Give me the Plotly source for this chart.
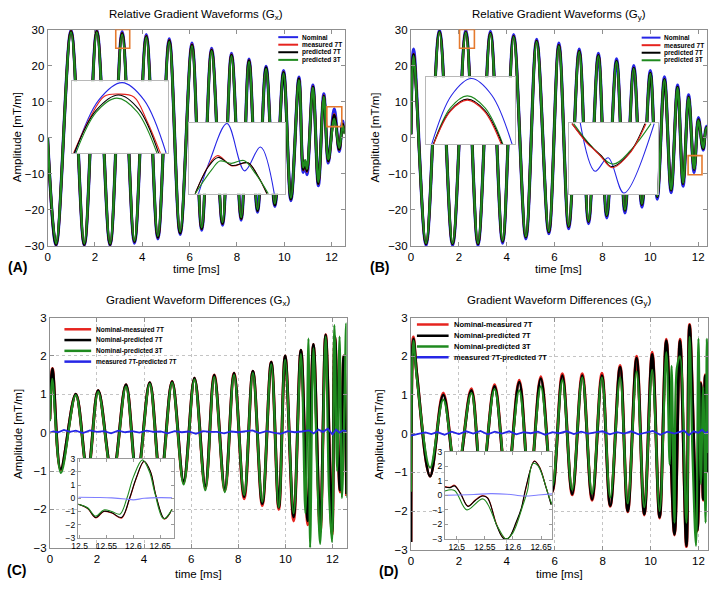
import plotly.graph_objects as go

W, H = 709, 590
FONT = "Liberation Sans, Arial, Helvetica, sans-serif"
BLUE = "#2626e6"
RED = "#e6241f"
BLACK = "#000000"
GREEN = "#1f8a1f"
ORANGE = "#e57a2e"
FRAME = "#8f8f8f"

# ---------------- Panel A: relative gradient waveform Gx (extrema) ----------------
tA = [0.0, 0.36, 0.99, 1.55, 2.08, 2.64, 3.15, 3.67, 4.17, 4.66, 5.14, 5.6, 6.1, 6.51, 6.93, 7.39,
      7.77, 8.18, 8.51, 8.87, 9.23, 9.6, 9.97, 10.28, 10.62, 10.8, 10.88, 10.96, 11.21, 11.44, 11.67,
      11.86, 12.11, 12.32, 12.47, 12.56]
gxNominal = [0, -29.8, 29.8, -29.8, 29.8, -29.8, 29.4, -29.2, 28.6, -28.0, 27.4, -26.8, 26.2, -25.6, 24.8, -24.2,
             23.4, -22.8, 21.8, -20.6, 19.8, -19.0, 18.6, -17.4, 16.8, -9.6, -7.2, -10.2, 14.6, -13.3, 12.2,
             -7.0, 8.0, -3.8, 4.6, 1.5]
gxMeas7 = [0, -29.6, 29.6, -29.6, 29.6, -29.6, 29.0, -28.8, 28.2, -27.6, 27.0, -26.4, 25.8, -25.2, 24.4, -23.8,
           23.0, -22.4, 21.4, -20.2, 19.4, -18.6, 18.2, -17.0, 16.4, -8.9, -6.7, -9.4, 14.2, -12.8, 11.7,
           -6.5, 6.5, -3.3, 3.9, 1.2]
gxPred7 = [0, -29.6, 29.5, -29.6, 29.5, -29.6, 28.9, -28.8, 28.1, -27.6, 26.9, -26.4, 25.7, -25.2, 24.3, -23.8,
           22.9, -22.4, 21.4, -20.2, 19.4, -18.6, 18.1, -17.0, 16.4, -8.8, -6.6, -9.2, 14.1, -12.7, 11.6,
           -6.4, 6.3, -3.2, 3.8, 1.2]
gxPred3 = [0, -29.3, 29.2, -29.3, 29.2, -29.3, 28.6, -28.5, 27.8, -27.2, 26.6, -26.0, 25.4, -24.8, 24.0, -23.4,
           22.6, -22.0, 21.0, -19.8, 19.0, -18.2, 17.8, -16.6, 16.0, -8.2, -6.2, -8.6, 13.8, -12.2, 11.3,
           -6.0, 5.2, -2.8, 3.2, 1.0]

# ---------------- Panel B: relative gradient waveform Gy ----------------
tB = [0.0, 0.11, 0.63, 1.19, 1.74, 2.29, 2.8, 3.32, 3.83, 4.29, 4.8, 5.25, 5.76, 6.18, 6.59, 7.03, 7.42,
      7.83, 8.18, 8.59, 8.94, 9.31, 9.65, 10.0, 10.29, 10.59, 10.87, 11.14, 11.37, 11.6, 11.83, 12.01,
      12.21, 12.36, 12.6]
gyNominal = [1.0, 24.6, -29.8, 29.8, -29.8, 29.8, -29.8, 29.5, -29.2, 28.6, -28.0, 27.3, -26.6, 26.2, -25.2, 24.6,
             -23.8, 23.4, -22.2, 21.9, -20.8, 20.0, -19.2, 18.6, -17.0, 16.9, -15.2, 14.6, -13.4, 11.9, -9.6,
             5.6, -3.4, 3.2, 0.5]
gyMeas7 = [1.0, 23.2, -29.4, 29.4, -29.4, 29.3, -29.4, 29.0, -28.7, 28.1, -27.5, 26.8, -26.1, 25.6, -24.6, 24.0,
           -23.2, 22.8, -21.6, 21.2, -20.1, 19.3, -18.5, 17.9, -16.3, 16.2, -14.5, 14.0, -12.7, 11.3, -8.8,
           5.0, -3.0, 2.9, 0.4]
gyPred7 = [1.0, 23.1, -29.4, 29.4, -29.4, 29.3, -29.4, 29.0, -28.7, 28.1, -27.5, 26.8, -26.1, 25.6, -24.6, 24.0,
           -23.2, 22.8, -21.6, 21.2, -20.1, 19.3, -18.5, 17.9, -16.3, 16.2, -14.5, 14.0, -12.7, 11.3, -8.8,
           5.0, -3.0, 2.9, 0.4]
gyPred3 = [1.0, 22.6, -29.2, 29.2, -29.2, 29.1, -29.2, 28.8, -28.5, 27.9, -27.3, 26.6, -25.9, 25.4, -24.4, 23.8,
           -23.0, 22.6, -21.4, 21.0, -19.9, 19.1, -18.3, 17.7, -16.1, 16.0, -14.3, 13.8, -12.5, 11.1, -8.6,
           4.8, -2.8, 2.8, 0.4]

# ---------------- Panel C: waveform differences Gx ----------------
tC = [0.0, 0.11, 0.46, 1.1, 1.6, 2.05, 2.66, 3.23, 3.7, 4.24, 4.7, 5.19, 5.68, 6.14, 6.6, 6.98, 7.43, 7.82,
      8.25, 8.62, 9.02, 9.4, 9.72, 9.99, 10.35, 10.66, 10.95, 11.19, 11.48, 11.71, 11.98, 12.1, 12.32,
      12.48, 12.6]
dxNomMeas7 = [0.35, 1.67, -0.97, 1.0, -1.07, 1.1, -1.17, 1.25, -1.22, 1.3, -1.25, 1.33, -1.3, 1.42, -1.43, 1.5,
              -1.5, 1.55, -1.72, 1.6, -1.9, 1.84, -2.0, 2.0, -2.3, 2.15, -2.4, 2.3, -2.6, 2.55, -2.65, 2.5,
              -1.55, 2.0, -1.65]
dxNomPred7 = [0.35, 1.67, -0.95, 1.0, -1.05, 1.1, -1.15, 1.25, -1.2, 1.3, -1.22, 1.33, -1.26, 1.42, -1.39, 1.5,
              -1.46, 1.55, -1.67, 1.6, -1.85, 1.84, -1.95, 2.0, -2.2, 2.15, -2.3, 2.3, -2.45, 2.55, -2.6, 2.5,
              -1.5, 2.0, -1.6]
tCg = [0.0, 0.1, 0.47, 1.1, 1.6, 2.05, 2.66, 3.23, 3.7, 4.24, 4.7, 5.19, 5.68, 6.14, 6.6, 6.98, 7.43, 7.82,
       8.25, 8.62, 9.02, 9.4, 9.72, 9.99, 10.35, 10.66, 10.85, 10.98, 11.05, 11.19, 11.35, 11.48, 11.71,
       11.85, 11.98, 12.08, 12.2, 12.3, 12.4, 12.5, 12.58, 12.62]
dxNomPred3 = [0.3, 1.4, -1.05, 0.98, -1.1, 1.06, -1.2, 1.2, -1.25, 1.27, -1.3, 1.3, -1.35, 1.38, -1.5, 1.45,
              -1.55, 1.5, -1.62, 1.55, -1.8, 1.78, -1.95, 1.9, -2.1, 2.05, -2.1, 2.45, -3.0, 2.2, -1.0, -2.9,
              2.5, -1.5, -2.85, 2.8, -1.0, 2.5, -1.7, 0.5, 2.85, -1.7]
tCb = [0.0, 0.15, 0.35, 0.6, 0.85, 1.1, 1.4, 1.7, 2.0, 2.3, 2.6, 2.9, 3.2, 3.5, 3.8, 4.1, 4.4, 4.7, 5.0,
       5.3, 5.6, 5.9, 6.2, 6.5, 6.8, 7.1, 7.4, 7.7, 8.0, 8.3, 8.6, 8.9, 9.2, 9.5, 9.8, 10.1, 10.4, 10.7,
       11.0, 11.2, 11.4, 11.6, 11.8, 12.0, 12.15, 12.3, 12.45, 12.6]
dxMeas7Pred7 = [0.0, 0.03, 0.01, 0.07, 0.02, 0.05, -0.01, 0.06, 0.02, 0.04, -0.02, 0.05, 0.01, 0.04, 0.0, 0.05,
                0.02, 0.03, -0.02, 0.04, 0.01, 0.03, -0.03, 0.04, 0.02, 0.02, -0.02, 0.03, 0.01, 0.04, 0.06,
                -0.01, 0.04, 0.0, -0.03, 0.04, 0.01, 0.03, 0.06, -0.02, 0.08, 0.02, 0.1, -0.05, 0.08, 0.0,
                0.06, 0.04]

# ---------------- Panel D: waveform differences Gy ----------------
tD = [0.0, 0.1, 0.25, 0.8, 1.35, 1.9, 2.52, 2.95, 3.49, 4.0, 4.52, 4.95, 5.42, 5.9, 6.32, 6.73, 7.15, 7.56,
      7.97, 8.32, 8.73, 9.05, 9.42, 9.74, 10.07, 10.38, 10.66, 11.0, 11.23, 11.5, 11.63, 11.95, 12.1,
      12.2, 12.28, 12.38]
dyNomMeas7 = [-2.8, 2.5, 1.5, -1.1, 1.05, -1.2, 1.16, -1.3, 1.26, -1.35, 1.38, -1.4, 1.47, -1.5, 1.55, -1.58,
              1.55, -1.72, 1.56, -1.88, 1.76, -2.02, 2.0, -2.1, 2.1, -2.18, 2.44, -2.62, 2.44, -2.92, 2.82,
              -2.52, 1.32, -1.72, 1.52, -1.0]
dyNomPred7 = [-2.8, 2.45, 1.5, -1.1, 1.0, -1.2, 1.12, -1.3, 1.22, -1.35, 1.33, -1.4, 1.42, -1.5, 1.5, -1.56,
              1.5, -1.7, 1.5, -1.86, 1.72, -2.0, 1.95, -2.08, 2.05, -2.16, 2.4, -2.6, 2.4, -2.9, 2.8, -2.5,
              1.3, -1.7, 1.5, -1.0]
tDg = [0.0, 0.1, 0.25, 0.8, 1.35, 1.9, 2.52, 2.95, 3.49, 4.0, 4.52, 4.95, 5.42, 5.9, 6.32, 6.73, 7.15, 7.56,
       7.97, 8.32, 8.73, 9.05, 9.42, 9.74, 10.07, 10.38, 10.66, 10.8, 10.88, 11.0, 11.1, 11.23, 11.5, 11.63,
       11.75, 11.9, 12.0, 12.1, 12.2, 12.3, 12.35, 12.4]
dyNomPred3 = [-1.5, 2.4, 1.4, -0.88, 0.88, -1.05, 1.05, -1.15, 1.15, -1.2, 1.12, -1.25, 1.22, -1.35, 1.38, -1.45,
              1.45, -1.55, 1.45, -1.65, 1.45, -1.8, 1.6, -1.9, 1.65, -2.0, 2.1, -0.8, 1.75, -2.3, 1.7, 2.0,
              -2.3, 2.5, -0.5, -2.9, 2.45, -1.3, 1.2, -2.3, 2.45, -0.5]
tDb = [0.0, 0.15, 0.35, 0.6, 0.85, 1.1, 1.4, 1.7, 2.0, 2.3, 2.6, 2.9, 3.2, 3.5, 3.8, 4.1, 4.4, 4.7, 5.0,
       5.3, 5.6, 5.9, 6.2, 6.5, 6.8, 7.1, 7.4, 7.7, 8.0, 8.3, 8.6, 8.9, 9.2, 9.5, 9.8, 10.1, 10.4, 10.7,
       11.0, 11.2, 11.4, 11.6, 11.8, 12.0, 12.15, 12.3, 12.45, 12.6]
dyMeas7Pred7 = [-0.05, -0.02, 0.0, 0.03, -0.01, 0.04, -0.03, 0.05, -0.01, 0.06, 0.0, 0.07, -0.02, 0.05, 0.0, 0.06,
                -0.02, 0.04, 0.01, 0.05, -0.03, 0.04, 0.01, 0.06, -0.01, 0.05, 0.0, 0.03, 0.06, -0.02, 0.04,
                0.0, 0.06, -0.02, 0.03, 0.07, -0.03, 0.05, 0.0, 0.04, 0.08, -0.04, 0.06, 0.02, 0.1, 0.0,
                0.08, 0.12]

# ---------------- zoom regions (orange boxes) and inset data ----------------
zoomA1 = [2.88, 3.47, 24.8, 30.0]
a1T_nom = [2.90, 3.045, 3.188, 3.322, 3.456]
a1_nom = [24.8, 28.62, 29.89, 28.62, 24.8]
a1T_red = [2.892, 2.99, 3.08, 3.17, 3.26, 3.34, 3.421]
a1_red = [24.8, 27.3, 28.9, 29.06, 28.85, 27.1, 24.8]
a1T_blk = [2.896, 3.03, 3.166, 3.29, 3.41]
a1_blk = [24.8, 27.9, 29.0, 27.95, 24.8]
a1T_grn = [2.906, 3.03, 3.155, 3.28, 3.40]
a1_grn = [24.8, 27.75, 28.77, 27.78, 24.8]

zoomA2 = [11.80, 12.43, 3.1, 8.6]
a2T_nom = [11.861, 11.937, 12.049, 12.165, 12.269, 12.36]
a2_nom = [3.1, 5.71, 8.55, 4.88, 6.73, 3.1]
a2T_red = [11.839, 11.926, 11.987, 12.082, 12.186, 12.251, 12.312]
a2_red = [3.1, 5.26, 6.06, 5.26, 5.51, 4.5, 3.1]
a2T_blk = [11.839, 11.926, 11.99, 12.082, 12.186, 12.251, 12.312]
a2_blk = [3.1, 5.2, 5.92, 5.3, 5.5, 4.5, 3.1]
a2T_grn = [11.839, 11.95, 12.002, 12.078, 12.16, 12.24, 12.321]
a2_grn = [3.1, 5.0, 5.64, 5.46, 5.68, 4.6, 3.1]

zoomB1 = [2.03, 2.65, 24.8, 30.0]
b1T_nom = [2.069, 2.207, 2.345, 2.487, 2.628]
b1_nom = [24.8, 28.6, 29.9, 28.6, 24.8]
b1T_red = [2.083, 2.2, 2.316, 2.434, 2.552]
b1_red = [24.8, 27.37, 28.22, 27.37, 24.8]
b1T_blk = [2.081, 2.199, 2.316, 2.438, 2.559]
b1_blk = [24.8, 27.42, 28.3, 27.42, 24.8]
b1T_grn = [2.081, 2.199, 2.316, 2.44, 2.564]
b1_grn = [24.8, 27.61, 28.55, 27.61, 24.8]

zoomB2 = [11.58, 12.16, -10.26, -4.94]
b2T_nom = [11.651, 11.749, 11.835, 11.939, 12.138]
b2_nom = [-4.94, -8.56, -7.56, -10.18, -5.02]
b2T_red = [11.597, 11.695, 11.745, 11.79, 11.861, 11.976, 12.084]
b2_red = [-5.02, -6.46, -6.98, -7.5, -8.3, -7.24, -5.02]
b2T_blk = [11.597, 11.695, 11.745, 11.79, 11.857, 11.976, 12.077]
b2_blk = [-5.02, -6.4, -6.95, -7.4, -8.22, -7.2, -5.02]
b2T_grn = [11.608, 11.727, 11.868, 11.987, 12.117]
b2_grn = [-5.02, -6.72, -8.03, -6.96, -5.02]

insetC_range = [12.497, 12.675]
ciT = [12.498, 12.515, 12.53, 12.545, 12.56, 12.578, 12.593, 12.605, 12.62, 12.632, 12.642, 12.658, 12.672]
ci_red = [-0.45, -0.78, -1.48, -1.0, -1.12, -1.5, -0.05, 1.45, 2.78, 2.0, 0.2, -1.58, -0.85]
ci_blk = [-0.45, -0.75, -1.45, -0.98, -1.1, -1.45, 0.0, 1.5, 2.8, 2.0, 0.2, -1.55, -0.85]
ciT_grn = [12.498, 12.515, 12.53, 12.545, 12.56, 12.575, 12.588, 12.6, 12.617, 12.63, 12.64, 12.656, 12.672]
ci_grn = [-0.45, -0.72, -1.35, -0.88, -1.0, -1.2, 0.0, 1.6, 2.9, 2.0, 0.4, -1.55, -0.85]
ciT_blu = [12.498, 12.53, 12.56, 12.585, 12.6, 12.62, 12.65, 12.672]
ci_blu = [0.08, 0.06, 0.03, -0.05, -0.12, 0.0, 0.05, 0.03]

insetD_range = [12.479, 12.67]
diT = [12.479, 12.488, 12.496, 12.507, 12.52, 12.533, 12.546, 12.555, 12.571, 12.583, 12.592, 12.606, 12.615,
       12.623, 12.638, 12.647, 12.659, 12.668]
di_red = [0.6, 0.55, 0.7, 0.12, -0.74, -0.32, -0.02, -0.18, -2.0, -2.92, -2.95, -1.9, -0.95, 0.45, 2.36, 1.98,
          0.55, -0.6]
di_blk = [0.58, 0.53, 0.65, 0.1, -0.76, -0.35, -0.05, -0.2, -2.06, -2.95, -2.95, -1.82, -0.88, 0.53, 2.34, 1.94,
          0.53, -0.65]
diT_grn = [12.479, 12.496, 12.518, 12.547, 12.573, 12.588, 12.6, 12.618, 12.626, 12.635, 12.644, 12.665, 12.67]
di_grn = [0.3, 0.34, -1.0, -0.25, -2.18, -3.0, -2.58, -0.65, 0.34, 2.18, 2.06, -0.18, -0.65]
diT_blu = [12.479, 12.5, 12.53, 12.56, 12.59, 12.62, 12.645, 12.67]
di_blu = [0.0, 0.02, 0.06, 0.12, 0.08, -0.05, 0.02, 0.1]

legendAB = ["Nominal", "measured 7T", "predicted 7T", "predicted 3T"]
legendCD = ["Nominal-measured 7T", "Nominal-predicted 7T", "Nominal-predicted 3T", "measured 7T-predicted 7T"]
xticks = [0, 2, 4, 6, 8, 10, 12]
yticksAB = [-30, -20, -10, 0, 10, 20, 30]
yticksCD = [-3, -2, -1, 0, 1, 2, 3]
insetTicksX = [12.5, 12.55, 12.6, 12.65]

# ---------------- figure ----------------
fig = go.Figure()


def px(x):
    return x / W


def py(y):
    return 1 - y / H


def add(x, y, ax, color, width, shape="spline"):
    xa = "x" if ax == 1 else "x%d" % ax
    ya = "y" if ax == 1 else "y%d" % ax
    line = dict(color=color, width=width, shape=shape)
    if shape == "spline":
        line["smoothing"] = 1.0
    fig.add_trace(go.Scatter(x=x, y=y, xaxis=xa, yaxis=ya, mode="lines", line=line,
                             hoverinfo="skip", showlegend=False))


# main panels
add(tA, gxNominal, 1, BLUE, 3.2)
add(tA, gxMeas7, 1, RED, 2.6)
add(tA, gxPred7, 1, BLACK, 2.8)
add(tA, gxPred3, 1, GREEN, 2.3)

add(tB, gyNominal, 2, BLUE, 3.2)
add(tB, gyMeas7, 2, RED, 2.6)
add(tB, gyPred7, 2, BLACK, 2.8)
add(tB, gyPred3, 2, GREEN, 2.3)

add(tC, dxNomMeas7, 3, RED, 3.0)
add(tC, dxNomPred7, 3, BLACK, 2.8)
add(tCg, dxNomPred3, 3, GREEN, 2.2)
add(tCb, dxMeas7Pred7, 3, BLUE, 1.8, "linear")

add(tD, dyNomMeas7, 4, RED, 3.0)
add(tD, dyNomPred7, 4, BLACK, 2.8)
add(tDg, dyNomPred3, 4, GREEN, 2.2)
add(tDb, dyMeas7Pred7, 4, BLUE, 1.8, "linear")

# insets
add(a1T_nom, a1_nom, 5, BLUE, 1.1)
add(a1T_red, a1_red, 5, RED, 1.1)
add(a1T_blk, a1_blk, 5, BLACK, 1.1)
add(a1T_grn, a1_grn, 5, GREEN, 1.1)

add(a2T_nom, a2_nom, 6, BLUE, 1.1)
add(a2T_red, a2_red, 6, RED, 1.1)
add(a2T_blk, a2_blk, 6, BLACK, 1.1)
add(a2T_grn, a2_grn, 6, GREEN, 1.1)

add(b1T_nom, b1_nom, 7, BLUE, 1.1)
add(b1T_grn, b1_grn, 7, GREEN, 1.1)
add(b1T_blk, b1_blk, 7, BLACK, 1.1)
add(b1T_red, b1_red, 7, RED, 1.1)

add(b2T_nom, b2_nom, 8, BLUE, 1.1)
add(b2T_grn, b2_grn, 8, GREEN, 1.1)
add(b2T_blk, b2_blk, 8, BLACK, 1.1)
add(b2T_red, b2_red, 8, RED, 1.1)

add(ciT, ci_red, 9, RED, 1.1)
add(ciT, ci_blk, 9, BLACK, 1.1)
add(ciT_grn, ci_grn, 9, GREEN, 1.1)
add(ciT_blu, ci_blu, 9, "#7f7fff", 1.1)

add(diT, di_red, 10, RED, 1.1)
add(diT, di_blk, 10, BLACK, 1.1)
add(diT_grn, di_grn, 10, GREEN, 1.1)
add(diT_blu, di_blu, 10, "#7f7fff", 1.1)


def dom_x(x0, x1):
    return [x0 / W, x1 / W]


def dom_y(ytop, ybot):
    return [1 - ybot / H, 1 - ytop / H]


def main_axis(dom, rng, tickvals, grid, anchor):
    return dict(domain=dom, range=rng, tickvals=tickvals, showline=True, mirror="ticks",
                linecolor=FRAME, linewidth=1, ticks="inside", ticklen=4, tickcolor=FRAME,
                showgrid=grid, gridcolor="#c4c4c4", griddash="dot", gridwidth=1,
                zeroline=False, tickfont=dict(size=11.5, color="black"), anchor=anchor,
                ticklabeloverflow="allow", fixedrange=True)


def plain_inset(dom, rng, anchor):
    return dict(domain=dom, range=rng, showline=True, mirror=True, linecolor="#b8b8b8",
                linewidth=1, ticks="", showticklabels=False, showgrid=False, zeroline=False,
                anchor=anchor, fixedrange=True)


def tick_inset(dom, rng, tickvals, anchor):
    return dict(domain=dom, range=rng, tickvals=tickvals, showline=True, mirror="ticks",
                linecolor="#9a9a9a", linewidth=1, ticks="inside", ticklen=3, tickcolor="#9a9a9a",
                showgrid=False, zeroline=False, tickfont=dict(size=8.5, color="black"),
                ticklabeloverflow="allow", anchor=anchor, fixedrange=True)


layout = dict(width=W, height=H, margin=dict(l=0, r=0, t=0, b=0), autosize=False,
              paper_bgcolor="white", plot_bgcolor="white",
              font=dict(family=FONT, color="black"), showlegend=False)

layout["xaxis"] = main_axis(dom_x(41, 341), [0, 12.55], xticks, False, "y")
layout["yaxis"] = main_axis(dom_y(24, 245), [-30, 30], yticksAB, False, "x")
layout["xaxis2"] = main_axis(dom_x(408, 707), [0, 12.37], xticks, False, "y2")
layout["yaxis2"] = main_axis(dom_y(24, 245), [-30, 30], yticksAB, False, "x2")
layout["xaxis3"] = main_axis(dom_x(43.3, 343), [0, 12.6], xticks, True, "y3")
layout["yaxis3"] = main_axis(dom_y(318, 553), [-3, 3], yticksCD, True, "x3")
layout["xaxis4"] = main_axis(dom_x(408, 708), [0, 12.4], xticks, True, "y4")
layout["yaxis4"] = main_axis(dom_y(318, 555), [-3, 3], yticksCD, True, "x4")

layout["xaxis5"] = plain_inset(dom_x(65.3, 163), zoomA1[:2], "y5")
layout["yaxis5"] = plain_inset(dom_y(76.7, 150), zoomA1[2:], "x5")
layout["xaxis6"] = plain_inset(dom_x(184, 280.7), zoomA2[:2], "y6")
layout["yaxis6"] = plain_inset(dom_y(119.3, 191.7), zoomA2[2:], "x6")
layout["xaxis7"] = plain_inset(dom_x(423.3, 513.3), zoomB1[:2], "y7")
layout["yaxis7"] = plain_inset(dom_y(72.7, 141), zoomB1[2:], "x7")
layout["xaxis8"] = plain_inset(dom_x(568, 657), zoomB2[:2], "y8")
layout["yaxis8"] = plain_inset(dom_y(119, 192), zoomB2[2:], "x8")
layout["xaxis9"] = tick_inset(dom_x(71.7, 168.3), insetC_range, insetTicksX, "y9")
layout["yaxis9"] = tick_inset(dom_y(462, 543), [-3, 3], yticksCD, "x9")
layout["xaxis10"] = tick_inset(dom_x(442.3, 550.7), insetD_range, insetTicksX, "y10")
layout["yaxis10"] = tick_inset(dom_y(455, 544), [-3, 3], yticksCD, "x10")

shapes = []
annotations = []

# orange zoom boxes
for (x0, x1, y0, y1), xr, yr in [(zoomA1, "x", "y"), (zoomA2, "x", "y"),
                                  (zoomB1, "x2", "y2"), (zoomB2, "x2", "y2")]:
    shapes.append(dict(type="rect", xref=xr, yref=yr, x0=x0, x1=x1, y0=y0, y1=y1,
                       line=dict(color=ORANGE, width=1.6), fillcolor="rgba(0,0,0,0)"))


def text(t, x, y, size, **kw):
    d = dict(text=t, x=px(x), y=py(y), xref="paper", yref="paper", showarrow=False,
             font=dict(size=size, family=FONT, color="black"), xanchor="center", yanchor="middle")
    d.update(kw)
    annotations.append(d)


def legend(x0, x1, xt, rows, labels, colors, size, lw):
    for yy, lab, c in zip(rows, labels, colors):
        shapes.append(dict(type="line", xref="paper", yref="paper", x0=px(x0), x1=px(x1),
                           y0=py(yy), y1=py(yy), line=dict(color=c, width=lw)))
        text("<b>%s</b>" % lab, xt, yy, size, xanchor="left")


legend(274, 294, 296, [31.8, 39.5, 47.2, 55.0], legendAB, [BLUE, RED, BLACK, GREEN], 6.5, 2)
legend(641, 660, 662, [32.3, 40.0, 47.7, 55.4], legendAB, [BLUE, RED, BLACK, GREEN], 6.5, 2)
legend(58, 85, 88.3, [330, 341, 352, 363], legendCD, [RED, BLACK, GREEN, BLUE], 6.5, 2.5)
legend(414, 446, 449, [325, 336.5, 347.5, 358.5], legendCD, [RED, BLACK, GREEN, BLUE], 7.5, 2.5)

# titles
text("Relative Gradient Waveforms (G<sub>x</sub>)", 191, 9, 11.5)
text("Relative Gradient Waveforms (G<sub>y</sub>)", 557.5, 9, 11.5)
text("Gradient Waveform Differences (G<sub>x</sub>)", 193, 301, 11.5)
text("Gradient Waveform Differences (G<sub>y</sub>)", 558, 301, 11.5)

# axis titles
for xc, yc in [(191, 268), (557.5, 268), (193, 580), (558, 580)]:
    text("time [ms]", xc, yc, 11.5)
for xc, yc in [(10, 134), (372, 134), (11, 437), (376, 437)]:
    text("Amplitude [mT/m]", xc, yc, 11.5, textangle=-90)

# panel labels
text("<b>(A)</b>", 11, 266, 14)
text("<b>(B)</b>", 376, 266, 14)
text("<b>(C)</b>", 10, 576, 14)
text("<b>(D)</b>", 385, 577, 14)

layout["shapes"] = shapes
layout["annotations"] = annotations
fig.update_layout(**layout)

fig.write_html("out.html", config={"displayModeBar": False, "staticPlot": True})

# remove the browser's default page margin so the figure sits at the window origin
with open("out.html", "r", encoding="utf-8") as f:
    html = f.read()
html = html.replace("<head>", "<head><style>html,body{margin:0;padding:0;overflow:hidden;}</style>", 1)
with open("out.html", "w", encoding="utf-8") as f:
    f.write(html)
